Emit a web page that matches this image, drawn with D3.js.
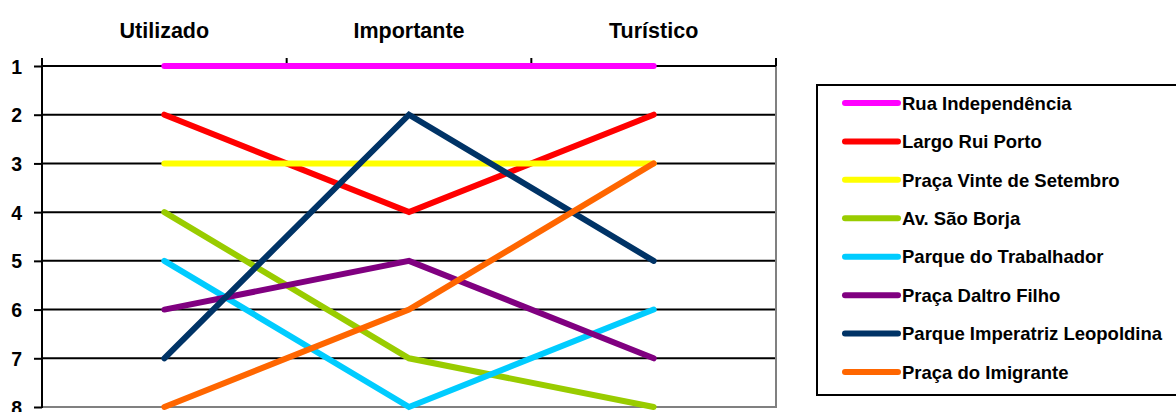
<!DOCTYPE html>
<html><head><meta charset="utf-8">
<script src="https://cdn.jsdelivr.net/npm/d3@7"></script>
<style>body{margin:0;background:#fff}svg{display:block}</style>
</head><body>
<svg id="chart" width="1176" height="412"></svg>
<script>
const categories = ["Utilizado", "Importante", "Turístico"];
const seriesNames = ["Rua Independência", "Largo Rui Porto", "Praça Vinte de Setembro", "Av. São Borja",
  "Parque do Trabalhador", "Praça Daltro Filho", "Parque Imperatriz Leopoldina", "Praça do Imigrante"];
const ruaIndependencia = [1, 1, 1];
const largoRuiPorto = [2, 4, 2];
const pracaVinteSetembro = [3, 3, 3];
const avSaoBorja = [4, 7, 8];
const parqueTrabalhador = [5, 8, 6];
const pracaDaltroFilho = [6, 5, 7];
const parqueImperatriz = [7, 2, 5];
const pracaImigrante = [8, 6, 3];
const colors = ["#FF00FF", "#FF0000", "#FFFF00", "#99CC00", "#00CCFF", "#800080", "#003366", "#FF6600"];
const yTicks = [1, 2, 3, 4, 5, 6, 7, 8];

const seriesValues = [ruaIndependencia, largoRuiPorto, pracaVinteSetembro, avSaoBorja,
  parqueTrabalhador, pracaDaltroFilho, parqueImperatriz, pracaImigrante];
const series = seriesNames.map((n, i) => ({name: n, values: seriesValues[i], color: colors[i]}));

const svg = d3.select("#chart");
const L = 42, R = 776, T = 66, B = 407;
const font = "'Liberation Sans', Arial, sans-serif";

const x = d3.scaleBand().domain(categories).range([L, R]);
const y = d3.scaleLinear().domain([1, 8]).range([T, B]);

// gridlines
svg.append("g").selectAll("line").data(yTicks.filter(t => t > 1 && t < 8)).join("line")
  .attr("x1", L).attr("x2", R).attr("y1", d => y(d)).attr("y2", d => y(d))
  .attr("stroke", "#000").attr("stroke-width", 2);

// plot border: right & bottom gray
svg.append("line").attr("x1", R).attr("x2", R).attr("y1", T).attr("y2", B + 1).attr("stroke", "#808080").attr("stroke-width", 2);
svg.append("line").attr("x1", L).attr("x2", R + 1).attr("y1", B).attr("y2", B).attr("stroke", "#808080").attr("stroke-width", 2);

// top category axis
const xTop = d3.axisTop(x).tickSize(0).tickPadding(0);
const gx = svg.append("g").attr("transform", `translate(0,${T})`).call(xTop);
gx.select(".domain").remove();
gx.selectAll("text").attr("y", -28).attr("font-family", font).attr("font-weight", "bold").attr("font-size", 21.5).attr("fill", "#000");
// category boundary ticks
const bounds = [L].concat(categories.map(c => x(c) + x.bandwidth()));
svg.append("g").selectAll("line").data(bounds).join("line")
  .attr("x1", d => d).attr("x2", d => d).attr("y1", T - 8).attr("y2", T)
  .attr("stroke", "#000").attr("stroke-width", 2);
svg.append("line").attr("x1", L).attr("x2", R).attr("y1", T).attr("y2", T).attr("stroke", "#000").attr("stroke-width", 2);

// left value axis
const yAx = d3.axisLeft(y).tickValues(yTicks).tickSize(8).tickPadding(12).tickFormat(d3.format("d"));
const gy = svg.append("g").attr("transform", `translate(${L},0)`).call(yAx);
gy.select(".domain").attr("stroke", "#000").attr("stroke-width", 2).attr("d", `M0,${T}V${B + 1}`);
gy.selectAll(".tick line").attr("stroke", "#000").attr("stroke-width", 2);
gy.selectAll("text").attr("font-family", font).attr("font-weight", "bold").attr("font-size", 19.5).attr("fill", "#000").attr("dy", "0.36em");

// lines
const line = d3.line().x((d, i) => x(categories[i]) + x.bandwidth() / 2).y(d => y(d));
svg.append("g").selectAll("path").data(series).join("path")
  .attr("d", d => line(d.values)).attr("fill", "none").attr("stroke", d => d.color)
  .attr("stroke-width", 6).attr("stroke-linecap", "round").attr("stroke-linejoin", "miter");

// legend
const lg = svg.append("g");
lg.append("rect").attr("x", 817).attr("y", 85).attr("width", 370).attr("height", 310)
  .attr("fill", "#fff").attr("stroke", "#000").attr("stroke-width", 2);
const ly = d3.scalePoint().domain(seriesNames).range([103, 372]);
const items = lg.selectAll("g.item").data(series).join("g").attr("class", "item")
  .attr("transform", d => `translate(0,${ly(d.name)})`);
items.append("line").attr("x1", 845).attr("x2", 898).attr("y1", 0).attr("y2", 0)
  .attr("stroke", d => d.color).attr("stroke-width", 6).attr("stroke-linecap", "round");
items.append("text").attr("x", 902).attr("y", 0).attr("dy", "0.36em").text(d => d.name)
  .attr("font-family", font).attr("font-weight", "bold").attr("font-size", 18.5).attr("fill", "#000");
</script>
</body></html>
